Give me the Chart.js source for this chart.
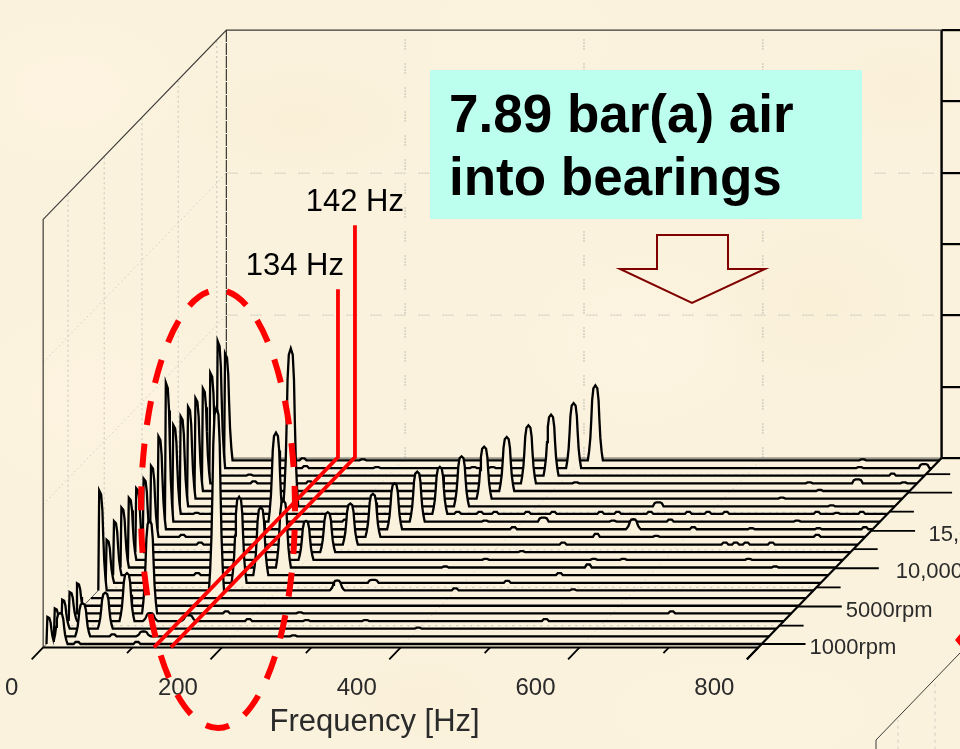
<!DOCTYPE html>
<html>
<head>
<meta charset="utf-8">
<title>Waterfall</title>
<script src="https://cdn.jsdelivr.net/npm/chart.js@4/dist/chart.umd.min.js"></script>
<style>
  html, body { margin: 0; padding: 0; overflow: hidden; }
  body {
    width: 960px; height: 749px;
    background-color: #fbf2dd;
    background-image:
      radial-gradient(ellipse 120px 80px at 70px 90px, #fdf3e0, transparent),
      radial-gradient(ellipse 140px 70px at 300px 120px, #faf0d8, transparent),
      radial-gradient(ellipse 110px 90px at 520px 40px, #fcf3df, transparent),
      radial-gradient(ellipse 130px 100px at 820px 300px, #faf0d8, transparent),
      radial-gradient(ellipse 120px 90px at 640px 340px, #fdf4e2, transparent),
      radial-gradient(ellipse 150px 100px at 100px 400px, #fdf3e0, transparent),
      radial-gradient(ellipse 100px 60px at 420px 700px, #faf0d9, transparent),
      radial-gradient(ellipse 160px 60px at 740px 710px, #fcf3df, transparent),
      radial-gradient(ellipse 90px 70px at 900px 90px, #faf0d9, transparent);
  }
  canvas { display: block; }
</style>
</head>
<body>
<canvas id="waterfall" width="960" height="749"></canvas>
<script>
// one entry per run-up trace, front (about 1000 rpm) to back
const syncFreqs = [19, 36, 53, 69, 86, 103, 119, 136, 153, 169, 186, 203, 219, 236, 253, 269, 286, 303, 319, 336, 353, 369, 386, 403, 419];
const syncHeights = [31, 33, 36, 48, 93, 0, 0, 183, 86, 68, 67, 39, 40, 41, 43, 46, 50, 47, 50, 52, 54, 58, 61, 65, 75];
const lowHeights = [27, 28, 29, 29, 30, 0, 0, 100, 43, 54, 60, 62, 64, 66, 71, 93, 139, 89, 90, 92, 93, 95, 103, 127, 107];
const lowFreq = 4.8;

// [trace, Hz, height]
const subPeaks = [[16, 128, 89], [18, 128, 158], [7, 271, 10], [15, 536, 10], [3, 95, 8], [3, 138, 6], [1, 104, 5]];
const roundBumps = [[8, 303, 3], [16, 427, 4], [18, 539, 4], [21, 737, 4], [23, 795, 4]];
const blobs = [
  [24, 92, 2], [23, 103, 2], [23, 183, 1], [24, 159, 1], [23, 291, 1], [23, 312, 1], [21, 124, 2], [21, 422, 1],
  [17, 323, 2], [17, 348, 2], [17, 365, 2], [17, 401, 2], [17, 430, 2], [17, 483, 2], [17, 502, 2], [16, 206, 2],
  [16, 362, 1], [15, 402, 2], [16, 505, 1], [14, 503, 3], [13, 474, 2], [12, 436, 1], [11, 404, 1], [11, 558, 1],
  [11, 525, 1], [10, 367, 1], [10, 527, 3], [9, 503, 2], [8, 453, 2], [7, 403, 2], [7, 535, 1], [3, 537, 2],
  [3, 270, 1], [3, 336, 1], [2, 403, 1], [24, 718, 1], [23, 723, 1], [22, 768, 2], [21, 683, 1], [21, 789, 1],
  [20, 703, 1], [19, 669, 1], [18, 733, 1], [17, 538, 2], [17, 581, 2], [17, 603, 2], [17, 623, 2], [17, 725, 2],
  [17, 747, 1], [17, 775, 2], [16, 569, 2], [16, 711, 1], [15, 603, 2], [15, 668, 1], [15, 743, 1], [15, 795, 2],
  [14, 570, 1], [14, 750, 2], [13, 655, 2], [13, 667, 2], [13, 679, 2], [13, 707, 2], [11, 698, 1], [10, 736, 1],
  [4, 670, 2], [0, 38, 2], [0, 105, 2], [1, 70, 2], [3, 205, 2], [4, 172, 2], [4, 254, 1], [1, 272, 1], [9, 98, 2],
  [13, 68, 2], [14, 40, 2], [17, 31, 1], [21, 62, 2], [22, 49, 1]
];

// peak outline: [Hz from centre, share of height]
const peakShape = [[-8.4, 0], [-7, 0.12], [-5.6, 0.3], [-4.5, 0.55], [-3.6, 0.8], [-2.2, 0.96], [0, 1], [2.2, 0.96], [3.6, 0.8], [4.5, 0.55], [5.6, 0.3], [7, 0.12], [8.4, 0]];
const blobShape = [[-3.9, 0], [-1.7, 1], [1.7, 1], [3.9, 0]];
const bumpShape = [[-6, 0], [-4, 0.8], [-2, 1], [2, 1], [4, 0.8], [6, 0]];

const freqLabels = [0, 200, 400, 600, 800];
const minorFreqs = [100, 300, 500, 700];
const wallFreqs = [200, 400, 600];
const wallAmps = [0, 71, 143, 214, 285, 357, 428];
const sideGridTraces = [2.9, 7.8, 12.9, 17.8, 23];
const floorGridTraces = [2.4, 7.4, 12.3, 17.2, 22.1];
const rpmTraces = [0, 2.4, 4.9, 7.4, 9.9, 12.4, 14.8, 17.3, 19.8, 22.2];
const rpmLabels = ['1000rpm', '5000rpm', '10,000rpm', '15,000rpm'];
const rpmLabelGaps = [53.5, 53.5, 68, 64];
const markerFreqs = [124, 143];
const markerHeights = [168, 232];
const markerLabels = ['134 Hz', '142 Hz'];

const FMAX = 800;
const WALL_TOP = 428;
const FRONT = -0.45, BACK = 24.3;
const SKEW = 8.28, LIFT = 7.65;   // per trace, oblique projection of the rpm axis
const READ_SHIFT = 3.8;           // peak readings were taken from a tick line 3.8 Hz to the right
const INK = '#000000', GRID = '#cfccc1', FLOOR_FILL = '#fbf2de';
const DOTS = [2, 1, 2, 1, 2, 1, 2, 13];

const proj = (f, k, amp = 0) => ({ x: f + k * SKEW, y: amp + k * LIFT });

function ampAt(f, peak) {
  const s = peak.shape;
  for (let i = 1; i < s.length; i++) {
    const f0 = peak.f + s[i - 1][0], f1 = peak.f + s[i][0];
    if (f >= f0 && f <= f1) {
      return peak.h * (s[i - 1][1] + (s[i][1] - s[i - 1][1]) * (f - f0) / (f1 - f0));
    }
  }
  return 0;
}

function tracePoints(k) {
  const peaks = [
    { f: lowFreq, h: lowHeights[k], shape: peakShape },
    { f: syncFreqs[k], h: syncHeights[k], shape: peakShape }
  ];
  subPeaks.filter(p => p[0] === k).forEach(p => peaks.push({ f: p[1], h: p[2], shape: peakShape }));
  roundBumps.filter(p => p[0] === k).forEach(p => peaks.push({ f: p[1], h: p[2], shape: bumpShape }));
  blobs.filter(p => p[0] === k).forEach(p => peaks.push({ f: p[1], h: p[2], shape: blobShape }));
  peaks.forEach(p => { p.f -= READ_SHIFT; });

  let stops = [0, FMAX];
  peaks.filter(p => p.h > 0).forEach(p => p.shape.forEach(s => stops.push(p.f + s[0])));
  stops = stops.filter(f => f > 0 && f <= FMAX).sort((a, b) => a - b);

  const pts = [proj(0, k)];
  stops.forEach(f => {
    const amp = Math.max(...peaks.map(p => ampAt(f, p)));
    pts.push(proj(f, k, amp));
  });
  return pts;
}

function line(data, color, width, dash) {
  return { data, borderColor: color, borderWidth: width, borderDash: dash || [], pointRadius: 0, fill: false, showLine: true, tension: 0 };
}

const datasets = [];

// red markers along the two fixed frequencies
markerFreqs.forEach((f, i) => {
  datasets.push(line([proj(f, FRONT), proj(f, 24.4), proj(f, 24.4, markerHeights[i])], '#ff0000', 3.8));
});

// front edges
datasets.push(line([proj(0, FRONT), proj(FMAX, FRONT)], INK, 2));
datasets.push(line([proj(FMAX, -2), proj(FMAX, BACK)], INK, 2.2));
freqLabels.forEach(f => datasets.push(line([proj(f, FRONT), proj(f, -2)], INK, 1.8)));
minorFreqs.forEach(f => datasets.push(line([proj(f, FRONT), proj(f, -1.2)], INK, 1.8)));
rpmTraces.forEach((k, i) => {
  datasets.push(line([proj(FMAX, k), proj(FMAX + (i % 2 ? 27 : 49), k)], INK, 1.8));
});

// traces, front first so that the front ones are painted last
for (let k = 0; k < syncFreqs.length; k++) {
  datasets.push({
    data: tracePoints(k),
    borderColor: INK,
    borderWidth: 2.3,
    pointRadius: 0,
    showLine: true,
    tension: 0,
    fill: { value: k * LIFT },
    backgroundColor: FLOOR_FILL
  });
}

// box frame
datasets.push(line([proj(0, FRONT), proj(0, FRONT, WALL_TOP), proj(0, BACK, WALL_TOP), proj(FMAX, BACK, WALL_TOP)], '#3a3a36', 1.2));
datasets.push(line([proj(0, FRONT), proj(0, BACK), proj(FMAX, BACK)], '#55554f', 1));
datasets.push(line([proj(0, BACK), proj(0, BACK, WALL_TOP)], '#3a3a36', 1.2, [12, 1]));
datasets.push(line([proj(FMAX, BACK), proj(FMAX, BACK, WALL_TOP)], INK, 2.4));
wallAmps.forEach(a => datasets.push(line([proj(FMAX, BACK, a), proj(FMAX + 25, BACK, a)], INK, 2.2)));

// dotted grids
wallFreqs.forEach(f => {
  datasets.push(line([proj(f, BACK), proj(f, BACK, WALL_TOP)], GRID, 1.4, DOTS));
  datasets.push(line([proj(f, FRONT), proj(f, BACK)], GRID, 1, [1.5, 4]));
});
[143, 285].forEach(a => {
  datasets.push(line([proj(0, BACK, a), proj(FMAX, BACK, a)], GRID, 1.4, DOTS));
  datasets.push(line([proj(0, FRONT, a), proj(0, BACK, a)], GRID, 1, [1.5, 3]));
});
sideGridTraces.forEach(k => datasets.push(line([proj(0, k), proj(0, k, WALL_TOP)], GRID, 1.2, [2, 3])));
floorGridTraces.forEach(k => datasets.push(line([proj(0, k), proj(FMAX, k)], GRID, 1.4, [2, 5])));

// texts and slide decoration that sit over the plot
const overlay = {
  id: 'overlay',
  afterDatasetsDraw(chart) {
    const { ctx, scales: { x, y } } = chart;
    const px = p => [x.getPixelForValue(p.x), y.getPixelForValue(p.y)];

    ctx.save();
    ctx.textBaseline = 'alphabetic';
    ctx.fillStyle = '#bdffee';
    ctx.fillRect(430, 70, 432, 149);
    ctx.fillStyle = '#000';
    ctx.font = 'bold 53px "Liberation Sans", Arial, sans-serif';
    ctx.textAlign = 'left';
    ctx.fillText('7.89 bar(a) air', 449, 132);
    ctx.fillText('into bearings', 449, 195);

    // down arrow
    ctx.strokeStyle = '#800000';
    ctx.lineWidth = 2;
    ctx.beginPath();
    [[657, 235], [728, 235], [728, 269], [765, 269], [692, 303], [620, 269], [657, 269]].forEach((p, i) => {
      i ? ctx.lineTo(p[0], p[1]) : ctx.moveTo(p[0], p[1]);
    });
    ctx.closePath();
    ctx.stroke();

    // dashed ring round the low frequency peaks
    ctx.strokeStyle = '#ff0000';
    ctx.lineWidth = 6;
    ctx.setLineDash([24, 18.7]);
    ctx.lineDashOffset = 21.7;
    ctx.beginPath();
    ctx.ellipse(218, 509, 77, 219, 0, 0, Math.PI * 2);
    ctx.stroke();
    ctx.setLineDash([]);

    // edge of the neighbouring slide panel
    ctx.fillStyle = '#ff0000';
    ctx.beginPath();
    ctx.moveTo(955, 640); ctx.lineTo(960, 634); ctx.lineTo(960, 646);
    ctx.closePath();
    ctx.fill();
    ctx.strokeStyle = '#3a3a36';
    ctx.lineWidth = 1;
    ctx.beginPath();
    ctx.moveTo(876, 749); ctx.lineTo(876, 740); ctx.lineTo(960, 653);
    ctx.stroke();
    ctx.strokeStyle = GRID;
    ctx.setLineDash([3, 4]);
    ctx.beginPath();
    ctx.moveTo(898, 749); ctx.lineTo(898, 720);
    ctx.moveTo(935, 749); ctx.lineTo(935, 682);
    ctx.stroke();
    ctx.setLineDash([]);

    // marker labels
    ctx.fillStyle = '#000';
    ctx.font = '31px "Liberation Sans", Arial, sans-serif';
    ctx.textAlign = 'right';
    markerFreqs.forEach((f, i) => {
      const [lx, ly] = px(proj(f, 24.4, markerHeights[i]));
      ctx.fillText(markerLabels[i], lx + (i ? 49 : 6), ly - 14);
    });

    // rpm labels follow the oblique edge
    ctx.fillStyle = '#2b2b2b';
    ctx.font = '22px "Liberation Sans", Arial, sans-serif';
    ctx.textAlign = 'left';
    ctx.textBaseline = 'middle';
    rpmLabels.forEach((t, i) => {
      const [lx, ly] = px(proj(FMAX + rpmLabelGaps[i], rpmTraces[i * 2], -4));
      ctx.fillText(t, lx, ly);
    });

    ctx.font = '31px "Liberation Sans", Arial, sans-serif';
    ctx.textAlign = 'center';
    ctx.fillText('Frequency [Hz]', x.getPixelForValue(367), 722);
    ctx.restore();
  }
};

new Chart(document.getElementById('waterfall'), {
  type: 'scatter',
  data: { datasets },
  options: {
    responsive: false,
    animation: false,
    events: [],
    layout: { autoPadding: false, padding: 0 },
    plugins: { legend: { display: false }, tooltip: { enabled: false } },
    scales: {
      x: {
        type: 'linear',
        min: -52,
        max: 1021.8,
        position: { y: -22 },
        grid: { display: false },
        border: { display: false },
        // the printed numbers sit left of the slanted ticks
        afterBuildTicks: axis => {
          axis.ticks = freqLabels.map(v => ({ value: v === 0 ? v - 39 : v - 53 }));
        },
        ticks: {
          autoSkip: false,
          maxRotation: 0,
          padding: 0,
          color: '#2b2b2b',
          font: { family: '"Liberation Sans", Arial, sans-serif', size: 24 },
          callback: (v, i) => String(freqLabels[i])
        }
      },
      y: { type: 'linear', display: false, min: -105, max: 644 }
    }
  },
  plugins: [overlay]
});
</script>
</body>
</html>
